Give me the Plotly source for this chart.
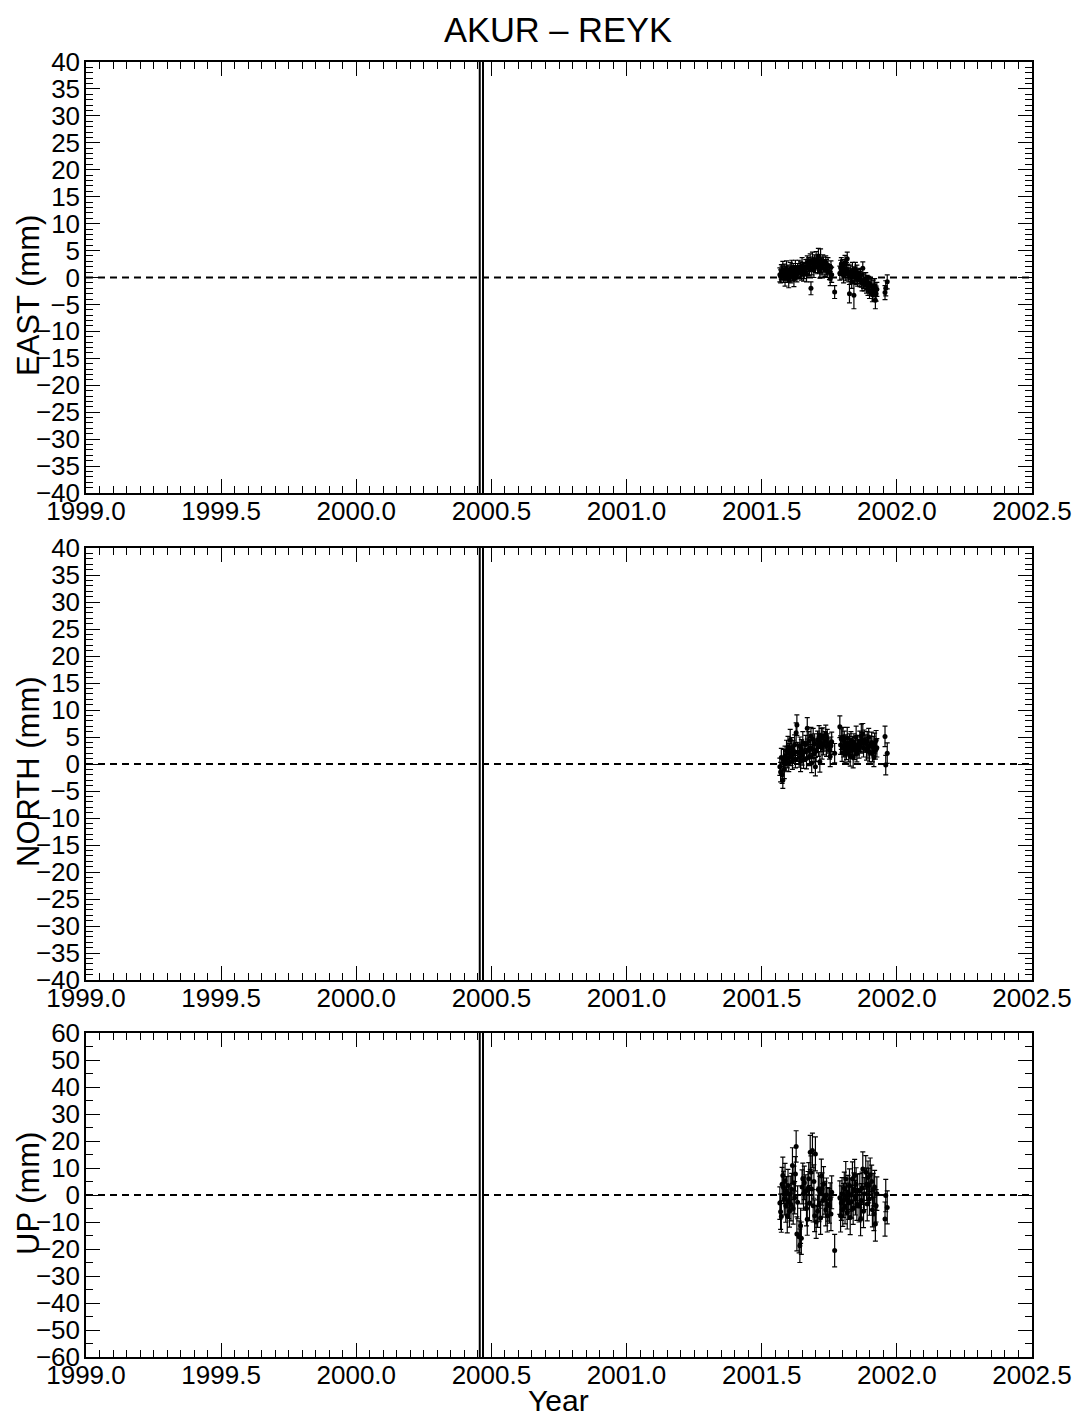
import plotly.graph_objects as go
from plotly.subplots import make_subplots

# Observation epochs (day of year 2001) shared by all three components
doy = [207, 208, 209, 210, 211, 212, 213, 214, 215, 216, 217, 218, 219, 220, 221, 222, 223, 224, 225, 226, 227, 228, 229, 230, 231,
       233, 234, 235, 236, 237, 238, 239, 240,
       242, 243, 244, 245, 246, 247, 248, 249, 250, 251, 252, 253, 254, 255, 256,
       258, 259, 260, 261, 262, 263, 264, 265, 266,
       268, 269, 270, 271, 272,
       274, 275, 276, 277,
       281,
       288, 289, 290, 291, 292, 293, 294, 295, 296, 297, 298, 299, 300,
       301, 302, 303, 304, 305, 306, 307, 308, 309, 310, 311, 312,
       314, 315, 316, 317, 318, 319, 320, 321,
       323, 324, 325, 326, 327, 328, 329,
       331, 332, 333, 334, 335, 336, 337, 338,
       349, 350, 352]

east = [0.5, 0.2, 1.0, 0.8, 1.5, 0.3, 1.2, -0.2, 0.9, 1.6, 0.4, 1.1, -0.5, 0.7, 1.3, 0.2, 1.8, 0.6, 1.4, -0.3, 0.9, 1.7, 1.0, 0.5, 1.2,
        1.9, 1.0, 1.5, 0.8, 2.2, 1.6, 0.6, 1.2,
        2.0, 0.6, 2.8, 1.9, 2.4, 1.5, 3.0, -2.0, 1.8, 3.2, 2.6, 1.4, 2.9, 2.1, 3.3,
        2.0, 4.0, 2.6, 1.2, 3.1, 2.2, 1.8, 3.0, 2.4,
        1.5, 2.8, 1.9, 1.3, 2.2,
        1.0, -0.2, 1.9, 0.5,
        -2.7,
        0.8, 1.8, 2.5, 1.2, 2.0, 0.4, 1.5, 2.8, 0.9, 1.6, 3.5, 1.1, 0.5,
        -3.0, 1.0, 0.2, -0.8, 1.3, 0.7, -3.3, 0.3, 1.6, 0.0, 0.9, -0.4,
        0.2, -0.3, 0.5, -0.5, -1.0, 1.7, -0.6, -1.2,
        -0.3, -1.5, -0.9, -1.8, -1.0, -2.5, -1.3,
        -1.6, -3.2, -2.0, -2.8, -1.5, -4.2, -3.0, -2.2,
        -2.8, -2.0, -0.8]
east_err = [1.3, 1.2, 1.4, 1.3, 1.5, 1.2, 1.3, 1.4, 1.2, 1.5, 1.3, 1.2, 1.4, 1.3, 1.5, 1.2, 1.4, 1.3, 1.2, 1.4, 1.3, 1.5, 1.2, 1.3, 1.4,
            1.3, 1.2, 1.4, 1.3, 1.5, 1.2, 1.3, 1.4,
            1.3, 1.4, 1.2, 1.5, 1.3, 1.2, 1.4, 1.2, 1.3, 1.5, 1.2, 1.4, 1.3, 1.2, 1.5,
            1.3, 1.4, 1.2, 1.3, 2.2, 1.4, 1.3, 1.2, 1.4,
            1.3, 1.2, 1.4, 1.3, 1.5,
            1.4, 1.3, 1.2, 1.4,
            1.2,
            1.3, 1.4, 1.2, 1.5, 1.3, 1.4, 1.2, 1.3, 1.5, 1.2, 1.2, 1.4, 1.3,
            1.7, 1.3, 1.4, 1.2, 1.5, 1.3, 2.5, 1.4, 1.2, 1.3, 1.4, 1.2,
            1.3, 1.4, 1.2, 1.3, 1.5, 1.2, 1.4, 1.3,
            1.2, 1.4, 1.3, 1.5, 1.2, 1.4, 1.3,
            1.4, 1.3, 1.5, 1.4, 1.3, 1.6, 1.4, 1.3,
            1.3, 1.4, 1.3]

north = [-0.5, -1.5, 1.2, -2.0, -3.0, 0.8, -1.0, 1.5, 0.3, 2.4, 1.0, 3.2, 0.2, 2.0, 4.4, 1.4, 3.0, 0.6, 2.6, 1.8, 3.5, 0.9, 5.8, 7.2, 2.2,
         1.2, 3.4, 0.5, 2.8, 1.6, 4.0, 0.8, 2.3,
         3.6, 1.0, 6.6, 2.5, 4.2, 1.4, 3.0, 5.2, 0.2, 2.7, 4.6, 1.8, 3.8, -0.5, 2.4,
         4.5, 3.2, 5.4, 0.4, 3.9, 4.8, 2.9, 5.0, 3.6,
         4.2, 5.6, 3.3, 4.7, 3.8,
         2.6, 1.4, 3.4, 4.1,
         2.0,
         6.9, 3.5, 4.6, 2.1, 5.0, 3.0, 4.2, 1.8, 3.6, 2.5, 4.8, 3.1, 2.2,
         3.9, 1.5, 4.4, 2.8, 3.4, 1.2, 4.0, 2.6, 3.2, 5.0, 2.0, 3.5,
         2.8, 4.2, 3.6, 5.2, 4.0, 5.6, 3.0, 4.5,
         3.8, 2.5, 4.3, 3.0, 5.0, 2.2, 3.4,
         4.0, 2.0, 3.3, 1.2, 3.8, 2.5, 4.4, 3.0,
         5.1, -0.2, 2.0]
north_err = [1.6, 1.8, 1.7, 1.6, 1.5, 1.9, 1.7, 1.8, 1.6, 2.0, 1.7, 1.9, 1.6, 1.8, 2.0, 1.7, 1.9, 1.6, 1.8, 1.7, 1.9, 1.6, 1.8, 1.9, 1.7,
             1.8, 1.6, 1.9, 1.7, 1.8, 2.0, 1.6, 1.8,
             1.7, 1.9, 2.0, 1.6, 1.8, 1.7, 1.9, 1.6, 1.8, 1.7, 2.0, 1.6, 1.8, 1.7, 1.9,
             1.6, 1.8, 1.7, 1.9, 1.6, 1.8, 2.0, 1.7, 1.9,
             1.8, 1.6, 1.9, 1.7, 1.8,
             1.7, 1.9, 1.6, 1.8,
             1.8,
             2.0, 1.7, 1.9, 1.6, 1.8, 1.7, 1.9, 1.6, 1.8, 1.7, 2.0, 1.6, 1.8,
             1.7, 1.9, 1.6, 1.8, 1.7, 1.9, 1.6, 1.8, 1.7, 2.0, 1.6, 1.8,
             1.7, 1.9, 1.6, 2.2, 1.8, 1.9, 1.7, 1.8,
             1.6, 1.8, 1.7, 1.9, 1.6, 1.8, 1.7,
             1.9, 1.6, 1.8, 1.7, 1.9, 1.6, 1.8, 1.7,
             1.9, 1.8, 1.9]

up = [-3.0, -6.2, -8.0, 4.0, 7.2, 2.8, -1.5, 5.3, -4.0, 1.0, -7.7, 3.5, -2.5, -6.0, 0.5, -3.5, 2.0, 10.9, -5.0, 4.5, -1.0, 7.8, 18.0, -14.4, -2.7,
      -15.5, -18.8, -11.4, -16.0, 3.0, 6.0, 0.5, 4.5,
      1.5, -5.0, -9.0, 2.5, 6.0, -3.0, 15.8, 8.4, 2.2, 16.5, -4.0, 5.0, -7.7, 15.2, -10.0,
      -6.0, 2.0, -3.5, 1.0, -8.5, 7.0, 2.2, -2.0, 4.0,
      -1.0, -5.5, 0.0, -7.7, -3.5,
      -4.0, -1.5, -7.0, 1.0,
      -20.6,
      -1.0, -7.7, -3.0, 0.5, -5.5, -2.0, 2.5, -4.5, 5.9, -1.5, -6.5, 1.0, -3.0,
      3.5, -8.3, 0.0, -2.5, 6.0, -5.0, 2.0, 7.2, -1.0, 4.0, -3.5, 1.5,
      -4.0, 1.6, -9.0, -2.0, 2.5, 9.6, -6.0, 0.5,
      8.4, 4.0, -3.3, 6.5, 3.5, -1.5, 7.5,
      5.0, -5.5, 2.0, -7.0, 3.0, -10.7, -4.0, 0.5,
      -8.9, -0.2, -4.6]
up_err = [6.0, 6.5, 5.8, 6.2, 6.8, 6.0, 5.9, 6.4, 6.1, 5.8, 6.3, 6.0, 6.2, 5.9, 6.5, 6.1, 6.0, 6.6, 5.8, 6.2, 6.0, 6.4, 5.8, 6.3, 6.1,
          5.9, 6.2, 6.5, 6.0, 6.3, 5.8, 6.1, 6.2,
          6.0, 6.4, 5.9, 6.2, 6.0, 6.5, 6.3, 6.1, 5.9, 6.4, 6.0, 6.2, 5.9, 6.3, 6.1,
          6.0, 6.2, 6.4, 5.9, 6.1, 6.3, 6.0, 6.2, 6.5,
          6.1, 5.9, 6.3, 6.0, 6.2,
          6.4, 6.0, 6.2, 6.1,
          6.0,
          6.2, 6.0, 6.4, 5.9, 6.1, 6.3, 6.0, 6.2, 6.5, 5.9, 6.1, 6.3, 6.0,
          6.2, 6.4, 6.0, 6.1, 6.3, 5.9, 6.2, 6.0, 6.4, 6.1, 5.9, 6.2,
          6.0, 6.3, 6.1, 6.2, 6.0, 6.4, 6.1, 5.9,
          6.2, 6.0, 6.3, 6.1, 6.4, 6.0, 6.2,
          6.1, 6.3, 6.0, 6.2, 6.1, 6.4, 6.0, 6.2,
          6.3, 6.0, 6.1]

# Paired vertical lines marking the equipment change epoch (decimal years)
offset_epochs = [2000.4568, 2000.4688]

t = [2001 + d / 365.0 for d in doy]

components = [("EAST (mm)", east, east_err, 40, 5, 1),
              ("NORTH (mm)", north, north_err, 40, 5, 1),
              ("UP (mm)", up, up_err, 60, 10, 5)]

W, H = 1075, 1416
ML, MR, MT, MB = 86, 43, 62, 59
plot_w = W - ML - MR
plot_h = H - MT - MB
panel_px = [(62, 493), (548, 980), (1033, 1357)]
domains = [[(H - MB - b) / plot_h, (H - MB - a) / plot_h] for a, b in panel_px]
# vertical centre (px from top) of each panel's axis title
title_centre_px = [296, 772, 1194]

FONT = "Liberation Sans, Arial, Helvetica, sans-serif"

fig = make_subplots(rows=3, cols=1)

for i, (label, vals, errs, lim, major, minor) in enumerate(components, start=1):
    fig.add_trace(go.Scatter(
        x=t, y=vals, mode="markers",
        marker=dict(color="black", size=5),
        error_y=dict(type="data", array=errs, visible=True,
                     color="black", thickness=1.2, width=2.5),
        showlegend=False, hoverinfo="skip"), row=i, col=1)

    axn = "" if i == 1 else str(i)
    fig.update_yaxes(
        range=[-lim, lim], dtick=major, tick0=0,
        ticks="inside", ticklen=14, tickwidth=1.2, tickcolor="black",
        minor=dict(dtick=minor, ticks="inside", ticklen=7, tickwidth=1.2, tickcolor="black"),
        showline=True, linecolor="black", linewidth=1.5, mirror="allticks",
        showgrid=False, zeroline=False, automargin=False,
        ticklabelstandoff=-1,
        tickfont=dict(family=FONT, size=26, color="black"),
        domain=domains[i - 1], row=i, col=1)
    fig.update_xaxes(
        range=[1999.0, 2002.5], tick0=1999.0, dtick=0.5, tickformat=".1f",
        ticks="inside", ticklen=14, tickwidth=1.2, tickcolor="black",
        minor=dict(dtick=0.05, ticks="inside", ticklen=7, tickwidth=1.2, tickcolor="black"),
        showline=True, linecolor="black", linewidth=1.5, mirror="allticks",
        showgrid=False, zeroline=False, automargin=False,
        ticklabelstandoff=-6,
        tickfont=dict(family=FONT, size=26, color="black"),
        row=i, col=1)

    # y-axis title, placed over the tick-label column
    fig.add_annotation(text=label, textangle=-90, showarrow=False,
                       xref="paper", yref="paper",
                       x=(28 - ML) / plot_w, y=(H - MB - title_centre_px[i - 1]) / plot_h,
                       xanchor="center", yanchor="middle",
                       font=dict(family=FONT, size=31, color="black"))

    # zero reference line
    fig.add_shape(type="line", xref="x" + axn + " domain", yref="y" + axn,
                  x0=0, x1=1, y0=0, y1=0,
                  line=dict(color="black", width=1.8, dash="7px,5px"))
    for ep in offset_epochs:
        fig.add_shape(type="line", xref="x" + axn, yref="y" + axn + " domain",
                      x0=ep, x1=ep, y0=0, y1=1,
                      line=dict(color="black", width=2))

fig.add_annotation(text="Year", showarrow=False, xref="paper", yref="paper",
                   x=(558 - ML) / plot_w, y=(H - MB - 1400) / plot_h,
                   xanchor="center", yanchor="middle",
                   font=dict(family=FONT, size=30, color="black"))

fig.update_layout(
    width=W, height=H,
    margin=dict(l=ML, r=MR, t=MT, b=MB),
    paper_bgcolor="white", plot_bgcolor="white",
    title=dict(text="AKUR – REYK", x=558 / W, xanchor="center",
               y=1 - 30 / H, yref="container", yanchor="middle",
               font=dict(family=FONT, size=34.5, color="black")),
    font=dict(family=FONT, color="black"),
)

fig.write_html("out.html")
